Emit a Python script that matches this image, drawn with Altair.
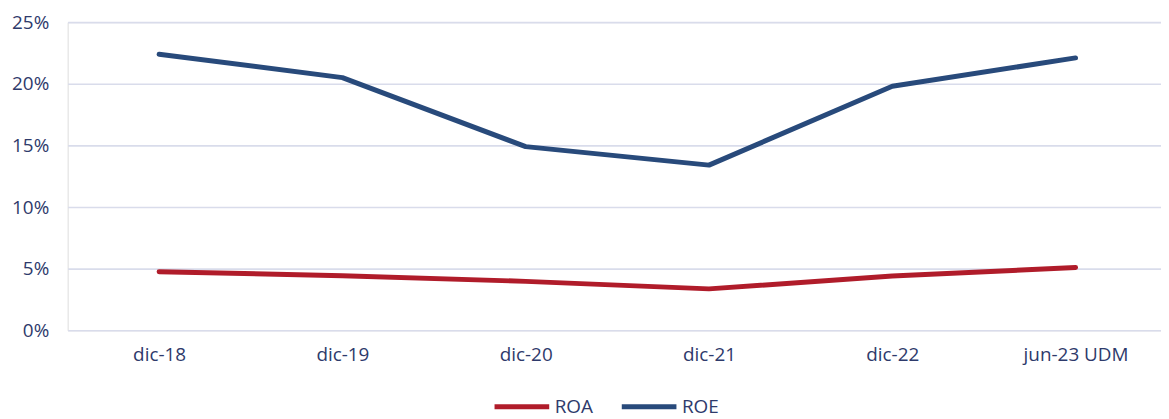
import altair as alt
import pandas as pd

categories = ["dic-18", "dic-19", "dic-20", "dic-21", "dic-22", "jun-23 UDM"]
roa = [4.75, 4.43, 3.97, 3.36, 4.4, 5.1]
roe = [22.4, 20.5, 14.9, 13.4, 19.8, 22.1]
series = ["ROA", "ROE"]
colors = ["#B01C2A", "#284A7B"]

rows = []
for name, vals in zip(series, [roa, roe]):
    for c, v in zip(categories, vals):
        rows.append({"periodo": c, "serie": name, "valor": v / 100})
df = pd.DataFrame(rows)

FONT = "Open Sans"
TXT = "#2E3A6B"

chart = alt.Chart(df).mark_line(strokeWidth=5, strokeCap="round", strokeJoin="round").encode(
    x=alt.X("periodo:N", sort=categories, title=None,
            scale=alt.Scale(type="point", padding=0.4826, align=0.517),
            axis=alt.Axis(labelAngle=0, ticks=False, domain=False, grid=False,
                          labelFont=FONT, labelFontSize=19, labelColor=TXT, labelPadding=15)),
    y=alt.Y("valor:Q", title=None,
            scale=alt.Scale(domain=[0, 0.25], nice=False),
            axis=alt.Axis(values=[0, 0.05, 0.10, 0.15, 0.20, 0.25], format=".0%",
                          ticks=False, domain=False, grid=True, gridColor="#D9DCEB",
                          gridWidth=1.6, labelFont=FONT, labelFontSize=19,
                          labelColor=TXT, labelPadding=19)),
    color=alt.Color("serie:N", sort=series, title=None,
                    scale=alt.Scale(domain=series, range=colors),
                    legend=alt.Legend(orient="none", legendX=427, legendY=357,
                                      direction="horizontal", symbolType="stroke",
                                      symbolStrokeWidth=5, symbolSize=3025,
                                      labelFont=FONT, labelFontSize=19, labelColor=TXT,
                                      labelOffset=3, columnPadding=18)),
).properties(
    width=1100, height=310,
    autosize="none",
    padding={"left": 60, "top": 13, "right": 0, "bottom": 88},
).configure_view(stroke=None).configure(background="white")

chart.save("out.html", embed_options={"renderer": "svg", "actions": False})
